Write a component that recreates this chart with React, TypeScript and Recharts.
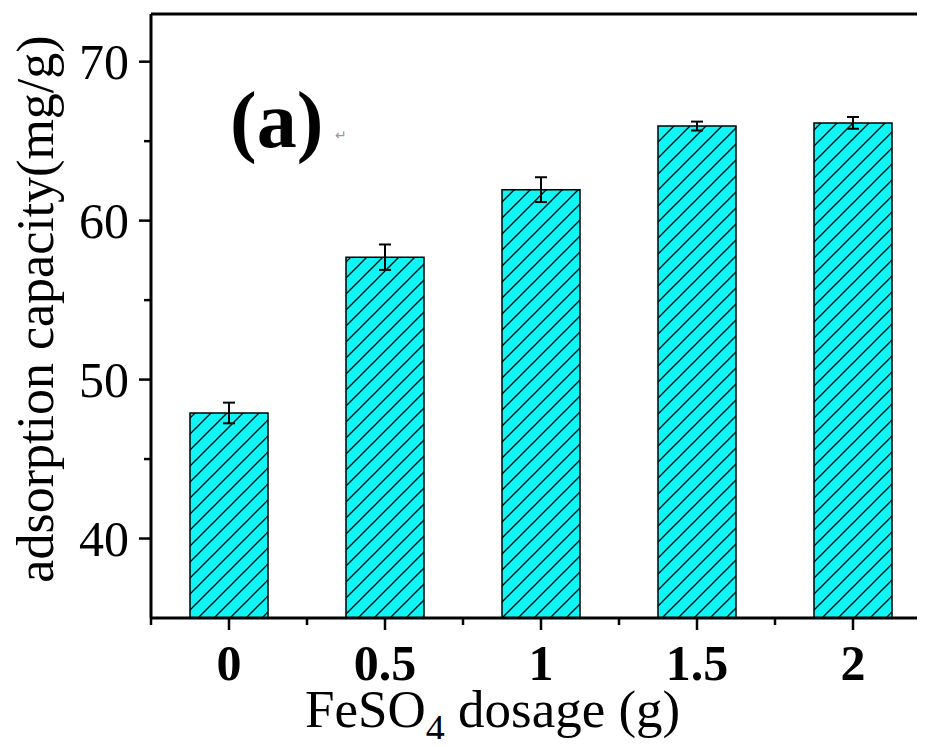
import React from "react";
import {
  BarChart,
  Bar,
  XAxis,
  YAxis,
  ErrorBar,
  ReferenceLine,
} from "recharts";

const dosages = ["0", "0.5", "1", "1.5", "2"];
const capacity = [47.9, 57.7, 61.95, 65.95, 66.15];
const capacityErr = [0.65, 0.8, 0.78, 0.28, 0.37];
const yTicks = [40, 45, 50, 55, 60, 65, 70];
const yMajor = [40, 50, 60, 70];

const data = dosages.map((d, i) => ({
  dosage: d,
  capacity: capacity[i],
  err: capacityErr[i],
}));

const FONT = "'Liberation Serif', 'Times New Roman', serif";
const HALF_BAND = 78;

const YTick = (props: any) => {
  const { x, y, payload } = props;
  const major = yMajor.includes(payload.value);
  return (
    <g>
      <line x1={x} x2={x - (major ? 12 : 7)} y1={y} y2={y} stroke="#000" strokeWidth={2.5} />
      {major && (
        <text
          x={x - 22}
          y={y}
          textAnchor="end"
          dominantBaseline="central"
          fontFamily={FONT}
          fontSize={50}
          fill="#000"
        >
          {payload.value}
        </text>
      )}
    </g>
  );
};

const XTick = (props: any) => {
  const { x, y, payload, index } = props;
  return (
    <g>
      <line x1={x} x2={x} y1={y} y2={y + 12} stroke="#000" strokeWidth={2.5} />
      <line x1={x + HALF_BAND} x2={x + HALF_BAND} y1={y} y2={y + 7} stroke="#000" strokeWidth={2.5} />
      {index === 0 && (
        <line x1={x - HALF_BAND} x2={x - HALF_BAND} y1={y} y2={y + 7} stroke="#000" strokeWidth={2.5} />
      )}
      <text
        x={x}
        y={y + 62}
        textAnchor="middle"
        fontFamily={FONT}
        fontWeight="bold"
        fontSize={50}
        fill="#000"
      >
        {payload.value}
      </text>
    </g>
  );
};

export default function App() {
  return (
    <div style={{ width: 917, height: 739, marginBottom: -8 }}>
      <svg width={0} height={0} style={{ position: "absolute" }}>
        <defs>
          <pattern id="hatch" patternUnits="userSpaceOnUse" width={16} height={16}>
            <rect width={16} height={16} fill="#0FF5F5" />
            <path
              d="M0,16 L16,0 M-4,4 L4,-4 M12,20 L20,12"
              stroke="#000"
              strokeWidth={1.3}
            />
          </pattern>
        </defs>
      </svg>
      <BarChart
        width={917}
        height={739}
        data={data}
        margin={{ top: 6, right: 0, left: 0, bottom: 0 }}
      >
        <XAxis
          dataKey="dosage"
          height={129}
          tickSize={0}
          tickMargin={0}
          tickLine={false}
          interval={0}
          padding={{ left: 0, right: -6 }}
          axisLine={{ stroke: "#000", strokeWidth: 3 }}
          tick={XTick}
          label={{
            content: () => (
              <text x={297} y={719} fontFamily={FONT} fontSize={53} fill="#000">
                FeSO
                <tspan dy={14} fontSize={38}>4</tspan>
                <tspan dy={-14}> dosage (g)</tspan>
              </text>
            ),
          }}
        />
        <YAxis
          domain={[35, 73]}
          ticks={yTicks}
          interval={0}
          width={143}
          tickSize={0}
          tickMargin={0}
          tickLine={false}
          allowDataOverflow
          axisLine={{ stroke: "#000", strokeWidth: 3 }}
          tick={YTick}
          label={{
            content: () => (
              <g>
                <text
                  transform="translate(45,301) rotate(-90)"
                  textAnchor="middle"
                  fontFamily={FONT}
                  fontSize={52}
                  fill="#000"
                >
                  adsorption capacity(mg/g)
                </text>
                <text x={222} y={139} fontFamily={FONT} fontWeight="bold" fontSize={80} fill="#000">
                  (a)
                </text>
                <text x={327} y={132} fontFamily={FONT} fontSize={14} fill="#999">
                  ↵
                </text>
              </g>
            ),
          }}
        />
        <ReferenceLine y={73} stroke="#000" strokeWidth={3} />
        <Bar
          dataKey="capacity"
          fill="url(#hatch)"
          stroke="#000"
          strokeWidth={1.5}
          barSize={78}
          isAnimationActive={false}
        >
          <ErrorBar dataKey="err" width={6} stroke="#000" strokeWidth={2} direction="y" />
        </Bar>
      </BarChart>
    </div>
  );
}
